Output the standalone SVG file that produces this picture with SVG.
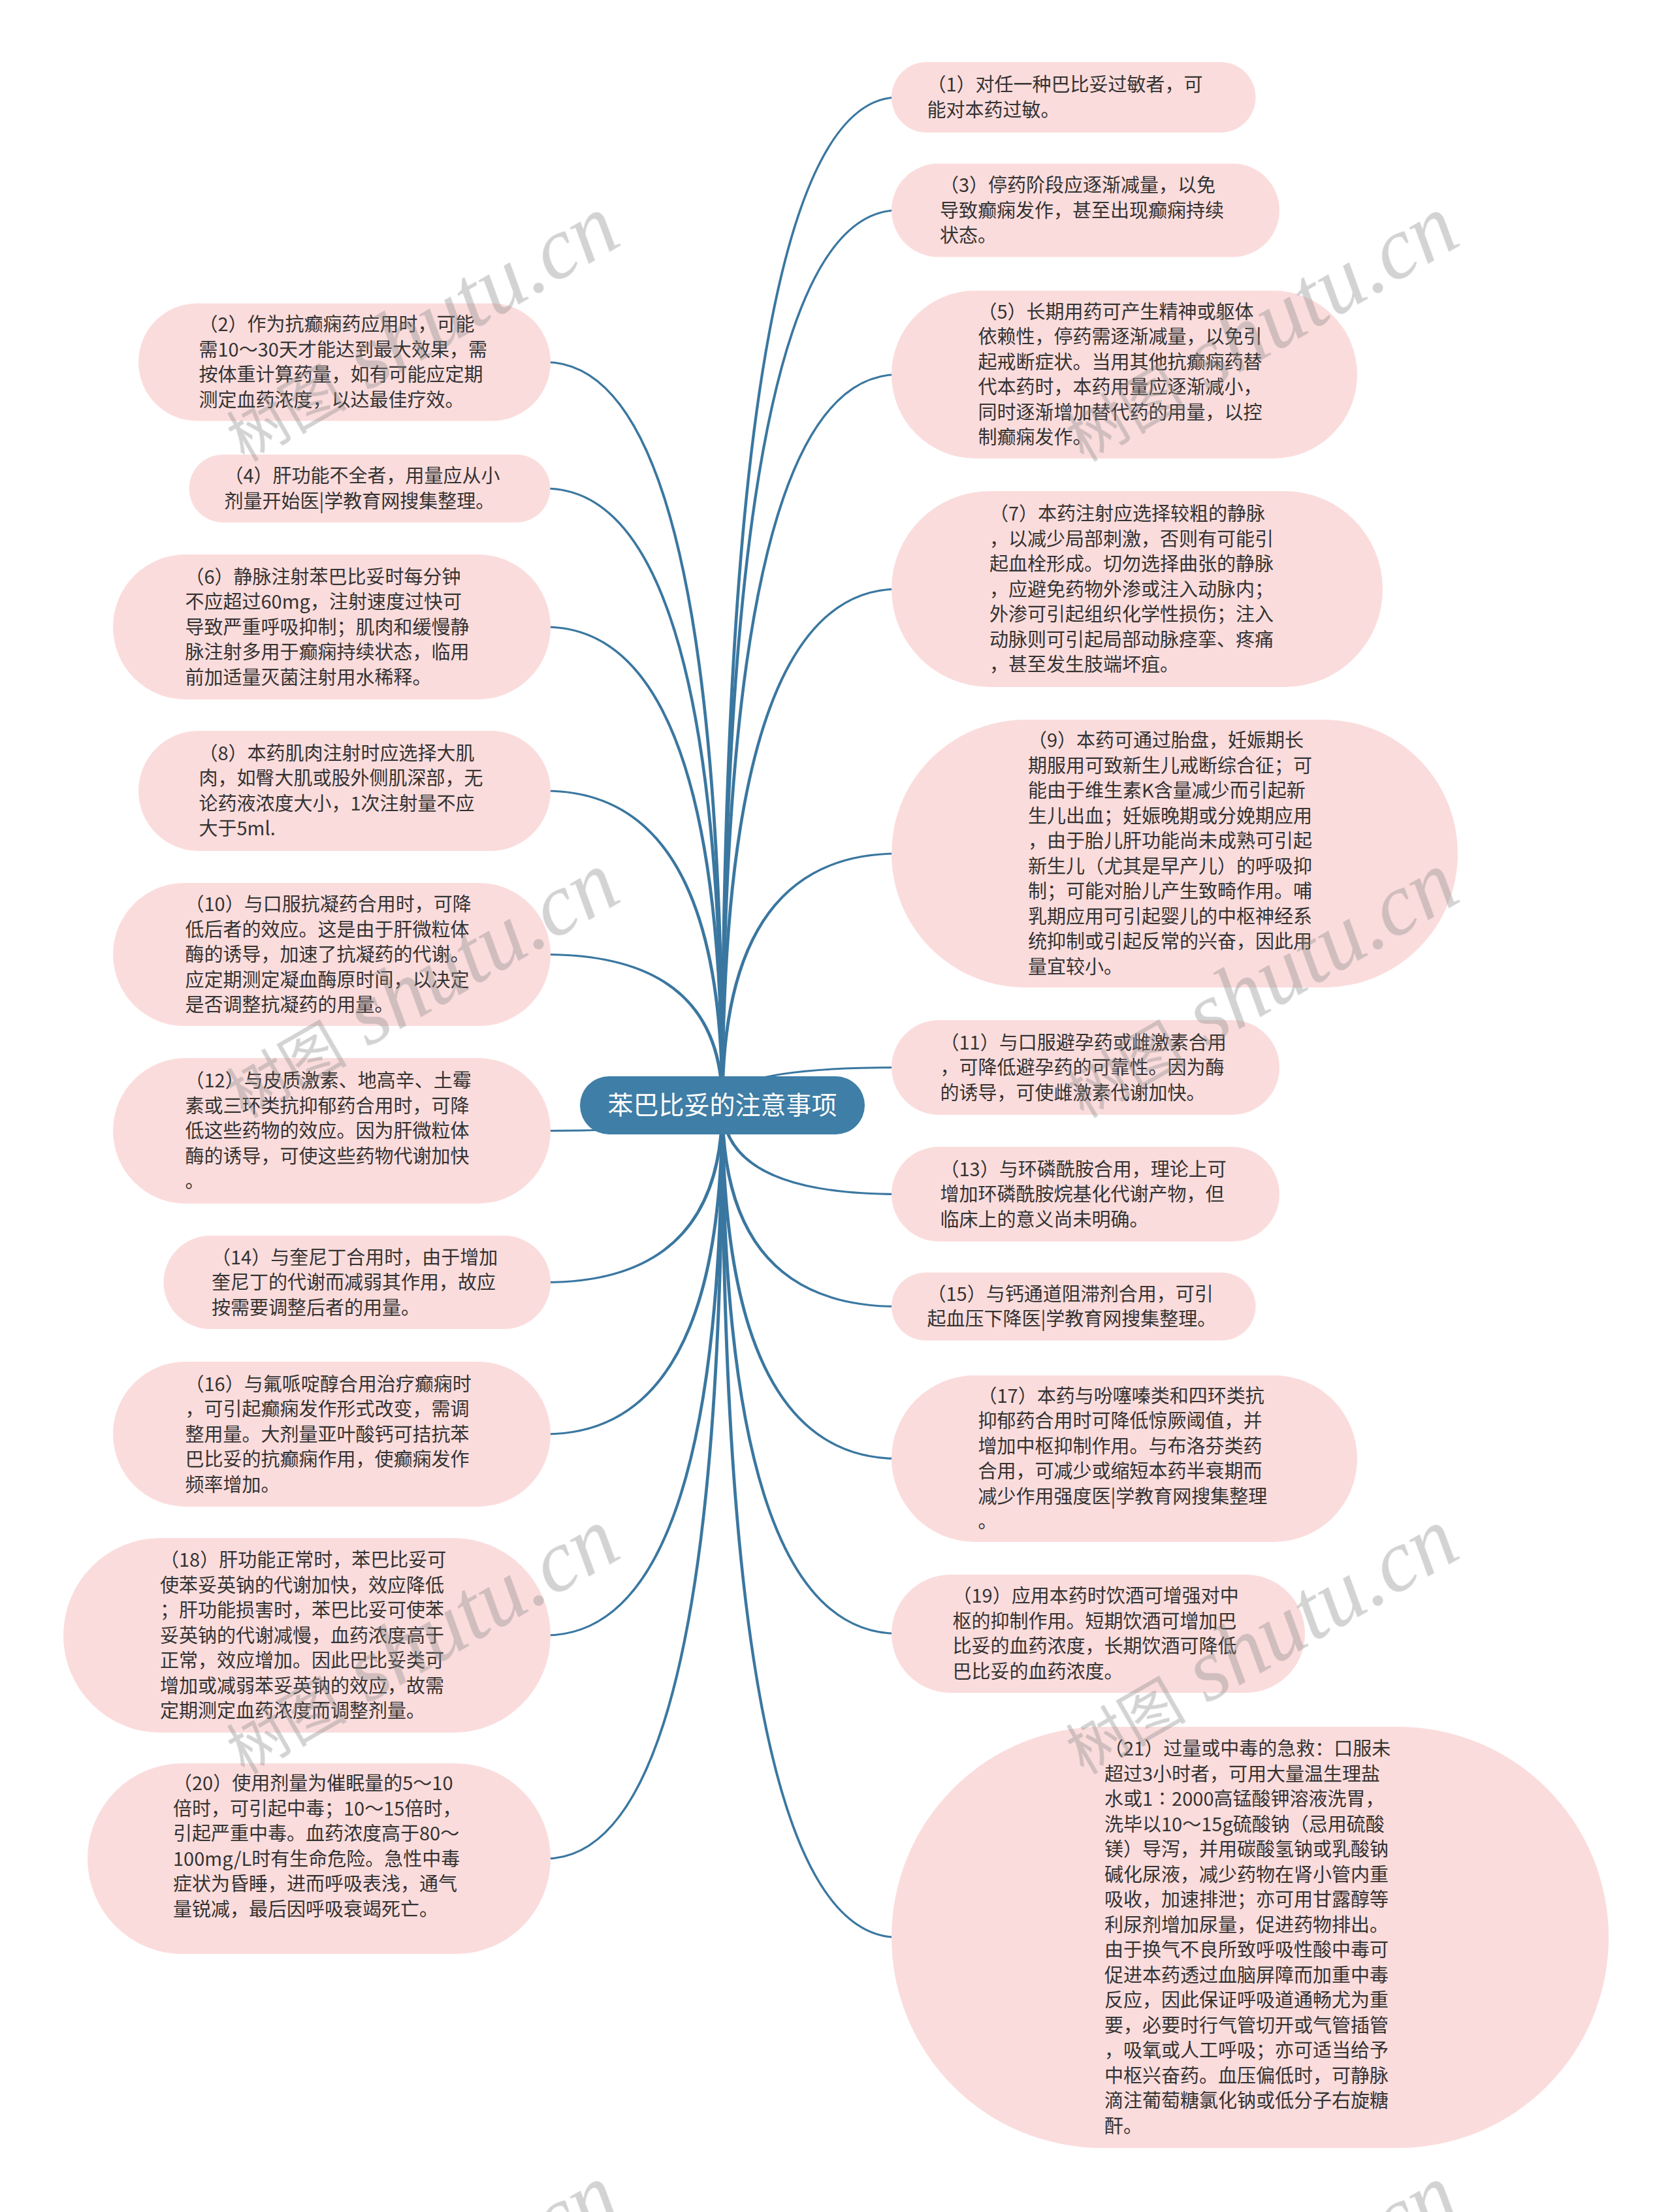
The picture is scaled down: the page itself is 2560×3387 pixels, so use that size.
<svg xmlns="http://www.w3.org/2000/svg" width="2560" height="3387" viewBox="0 0 2560 3387">
<style>
.node rect{fill:#fbdcdc}
.node text{font-family:"Noto Sans CJK SC","Noto Sans CJK JP",sans-serif;font-size:29px;fill:#333}
.edge{fill:#3a77a0}
.root rect{fill:#3f7ea6}
.root text{font-family:"Noto Sans CJK SC","Noto Sans CJK JP",sans-serif;font-size:39px;fill:#fff;text-anchor:middle}
.wm{fill:#8a8a8a;opacity:.38}
.wm .cj{font-family:"Noto Sans CJK SC",sans-serif;font-size:92px}
.wm .lt{font-family:"Liberation Serif",serif;font-style:italic;font-size:135px}
</style>
<rect width="2560" height="3387" fill="#fff"/>
<g id="connectors">
<path class="edge" d="M1108.5 1692Q1108.5 553 835 553L835 556Q1103.5 556 1103.5 1692Z"/>
<path class="edge" d="M1108.5 1692Q1108.5 746.5 835 746.5L835 749.5Q1103.5 749.5 1103.5 1692Z"/>
<path class="edge" d="M1108.5 1692Q1108.5 958.5 835 958.5L835 961.5Q1103.5 961.5 1103.5 1692Z"/>
<path class="edge" d="M1108.5 1692Q1108.5 1209.5 835 1209.5L835 1212.5Q1103.5 1212.5 1103.5 1692Z"/>
<path class="edge" d="M1108.5 1692Q1108.5 1460 835 1460L835 1463Q1103.5 1463 1103.5 1692Z"/>
<path class="edge" d="M1108.5 1692Q1108.5 1733 835 1733L835 1730Q1103.5 1730 1103.5 1692Z"/>
<path class="edge" d="M1108.5 1692Q1108.5 1965 835 1965L835 1962Q1103.5 1962 1103.5 1692Z"/>
<path class="edge" d="M1108.5 1692Q1108.5 2197.5 835 2197.5L835 2194.5Q1103.5 2194.5 1103.5 1692Z"/>
<path class="edge" d="M1108.5 1692Q1108.5 2505.5 835 2505.5L835 2502.5Q1103.5 2502.5 1103.5 1692Z"/>
<path class="edge" d="M1108.5 1692Q1108.5 2847.5 835 2847.5L835 2844.5Q1103.5 2844.5 1103.5 1692Z"/>
<path class="edge" d="M1103.5 1692Q1103.5 147.5 1375 147.5L1375 150.5Q1108.5 150.5 1108.5 1692Z"/>
<path class="edge" d="M1103.5 1692Q1103.5 320.5 1375 320.5L1375 323.5Q1108.5 323.5 1108.5 1692Z"/>
<path class="edge" d="M1103.5 1692Q1103.5 572 1375 572L1375 575Q1108.5 575 1108.5 1692Z"/>
<path class="edge" d="M1103.5 1692Q1103.5 900.5 1375 900.5L1375 903.5Q1108.5 903.5 1108.5 1692Z"/>
<path class="edge" d="M1103.5 1692Q1103.5 1305.5 1375 1305.5L1375 1308.5Q1108.5 1308.5 1108.5 1692Z"/>
<path class="edge" d="M1103.5 1692Q1103.5 1633 1375 1633L1375 1636Q1108.5 1636 1108.5 1692Z"/>
<path class="edge" d="M1103.5 1692Q1103.5 1830 1375 1830L1375 1827Q1108.5 1827 1108.5 1692Z"/>
<path class="edge" d="M1103.5 1692Q1103.5 2002 1375 2002L1375 1999Q1108.5 1999 1108.5 1692Z"/>
<path class="edge" d="M1103.5 1692Q1103.5 2235 1375 2235L1375 2232Q1108.5 2232 1108.5 1692Z"/>
<path class="edge" d="M1103.5 1692Q1103.5 2503 1375 2503L1375 2500Q1108.5 2500 1108.5 1692Z"/>
<path class="edge" d="M1103.5 1692Q1103.5 2968 1375 2968L1375 2965Q1108.5 2965 1108.5 1692Z"/>
</g>
<g id="root" class="root"><rect x="888" y="1648" width="436" height="89" rx="44.5"/><text x="1106" y="1706">苯巴比妥的注意事项</text></g>
<g id="n1" class="node"><rect x="1365" y="95" width="557.5" height="108" rx="54"/><text x="1419.5" y="140.25">（1）对任一种巴比妥过敏者，可<tspan x="1419.5" dy="38.5">能对本药过敏。</tspan></text></g>
<g id="n3" class="node"><rect x="1365" y="250.5" width="594" height="143" rx="71.5"/><text x="1439" y="294">（3）停药阶段应逐渐减量，以免<tspan x="1439" dy="38.5">导致癫痫发作，甚至出现癫痫持续</tspan><tspan x="1439" dy="38.5">状态。</tspan></text></g>
<g id="n5" class="node"><rect x="1365" y="445" width="713" height="257" rx="128.5"/><text x="1497.5" y="487.75">（5）长期用药可产生精神或躯体<tspan x="1497.5" dy="38.5">依赖性，停药需逐渐减量，以免引</tspan><tspan x="1497.5" dy="38.5">起戒断症状。当用其他抗癫痫药替</tspan><tspan x="1497.5" dy="38.5">代本药时，本药用量应逐渐减小，</tspan><tspan x="1497.5" dy="38.5">同时逐渐增加替代药的用量，以控</tspan><tspan x="1497.5" dy="38.5">制癫痫发作。</tspan></text></g>
<g id="n7" class="node"><rect x="1365" y="752" width="752" height="300" rx="150"/><text x="1515" y="797">（7）本药注射应选择较粗的静脉<tspan x="1515" dy="38.5">，以减少局部刺激，否则有可能引</tspan><tspan x="1515" dy="38.5">起血栓形成。切勿选择曲张的静脉</tspan><tspan x="1515" dy="38.5">，应避免药物外渗或注入动脉内；</tspan><tspan x="1515" dy="38.5">外渗可引起组织化学性损伤；注入</tspan><tspan x="1515" dy="38.5">动脉则可引起局部动脉痉挛、疼痛</tspan><tspan x="1515" dy="38.5">，甚至发生肢端坏疽。</tspan></text></g>
<g id="n9" class="node"><rect x="1365" y="1102" width="867" height="410" rx="205"/><text x="1574" y="1144.25">（9）本药可通过胎盘，妊娠期长<tspan x="1574" dy="38.5">期服用可致新生儿戒断综合征；可</tspan><tspan x="1574" dy="38.5">能由于维生素K含量减少而引起新</tspan><tspan x="1574" dy="38.5">生儿出血；妊娠晚期或分娩期应用</tspan><tspan x="1574" dy="38.5">，由于胎儿肝功能尚未成熟可引起</tspan><tspan x="1574" dy="38.5">新生儿（尤其是早产儿）的呼吸抑</tspan><tspan x="1574" dy="38.5">制；可能对胎儿产生致畸作用。哺</tspan><tspan x="1574" dy="38.5">乳期应用可引起婴儿的中枢神经系</tspan><tspan x="1574" dy="38.5">统抑制或引起反常的兴奋，因此用</tspan><tspan x="1574" dy="38.5">量宜较小。</tspan></text></g>
<g id="n11" class="node"><rect x="1365" y="1562" width="594" height="145" rx="72.5"/><text x="1439.5" y="1606.5">（11）与口服避孕药或雌激素合用<tspan x="1439.5" dy="38.5">，可降低避孕药的可靠性。因为酶</tspan><tspan x="1439.5" dy="38.5">的诱导，可使雌激素代谢加快。</tspan></text></g>
<g id="n13" class="node"><rect x="1365" y="1756" width="594" height="145" rx="72.5"/><text x="1439.5" y="1800.5">（13）与环磷酰胺合用，理论上可<tspan x="1439.5" dy="38.5">增加环磷酰胺烷基化代谢产物，但</tspan><tspan x="1439.5" dy="38.5">临床上的意义尚未明确。</tspan></text></g>
<g id="n15" class="node"><rect x="1365" y="1948.5" width="557.5" height="104" rx="52"/><text x="1419.5" y="1991.75">（15）与钙通道阻滞剂合用，可引<tspan x="1419.5" dy="38.5">起血压下降医|学教育网搜集整理。</tspan></text></g>
<g id="n17" class="node"><rect x="1365" y="2106" width="713" height="255" rx="127.5"/><text x="1497.5" y="2147.75">（17）本药与吩噻嗪类和四环类抗<tspan x="1497.5" dy="38.5">抑郁药合用时可降低惊厥阈值，并</tspan><tspan x="1497.5" dy="38.5">增加中枢抑制作用。与布洛芬类药</tspan><tspan x="1497.5" dy="38.5">合用，可减少或缩短本药半衰期而</tspan><tspan x="1497.5" dy="38.5">减少作用强度医|学教育网搜集整理</tspan><tspan x="1497.5" dy="38.5">。</tspan></text></g>
<g id="n19" class="node"><rect x="1365" y="2411" width="633" height="181" rx="90.5"/><text x="1458.5" y="2454.25">（19）应用本药时饮酒可增强对中<tspan x="1458.5" dy="38.5">枢的抑制作用。短期饮酒可增加巴</tspan><tspan x="1458.5" dy="38.5">比妥的血药浓度，长期饮酒可降低</tspan><tspan x="1458.5" dy="38.5">巴比妥的血药浓度。</tspan></text></g>
<g id="n21" class="node"><rect x="1365" y="2644" width="1098" height="645" rx="322.5"/><text x="1691" y="2688.25">（21）过量或中毒的急救：口服未<tspan x="1691" dy="38.5">超过3小时者，可用大量温生理盐</tspan><tspan x="1691" dy="38.5">水或1∶2000高锰酸钾溶液洗胃，</tspan><tspan x="1691" dy="38.5">洗毕以10～15g硫酸钠（忌用硫酸</tspan><tspan x="1691" dy="38.5">镁）导泻，并用碳酸氢钠或乳酸钠</tspan><tspan x="1691" dy="38.5">碱化尿液，减少药物在肾小管内重</tspan><tspan x="1691" dy="38.5">吸收，加速排泄；亦可用甘露醇等</tspan><tspan x="1691" dy="38.5">利尿剂增加尿量，促进药物排出。</tspan><tspan x="1691" dy="38.5">由于换气不良所致呼吸性酸中毒可</tspan><tspan x="1691" dy="38.5">促进本药透过血脑屏障而加重中毒</tspan><tspan x="1691" dy="38.5">反应，因此保证呼吸道通畅尤为重</tspan><tspan x="1691" dy="38.5">要，必要时行气管切开或气管插管</tspan><tspan x="1691" dy="38.5">，吸氧或人工呼吸；亦可适当给予</tspan><tspan x="1691" dy="38.5">中枢兴奋药。血压偏低时，可静脉</tspan><tspan x="1691" dy="38.5">滴注葡萄糖氯化钠或低分子右旋糖</tspan><tspan x="1691" dy="38.5">酐。</tspan></text></g>
<g id="n2" class="node"><rect x="212" y="464.5" width="631" height="180" rx="90"/><text x="304.5" y="507.25">（2）作为抗癫痫药应用时，可能<tspan x="304.5" dy="38.5">需10～30天才能达到最大效果，需</tspan><tspan x="304.5" dy="38.5">按体重计算药量，如有可能应定期</tspan><tspan x="304.5" dy="38.5">测定血药浓度，以达最佳疗效。</tspan></text></g>
<g id="n4" class="node"><rect x="289.5" y="696" width="553" height="104" rx="52"/><text x="343.5" y="739.25">（4）肝功能不全者，用量应从小<tspan x="343.5" dy="38.5">剂量开始医|学教育网搜集整理。</tspan></text></g>
<g id="n6" class="node"><rect x="173" y="849" width="670" height="222" rx="111"/><text x="283.5" y="893.5">（6）静脉注射苯巴比妥时每分钟<tspan x="283.5" dy="38.5">不应超过60mg，注射速度过快可</tspan><tspan x="283.5" dy="38.5">导致严重呼吸抑制；肌肉和缓慢静</tspan><tspan x="283.5" dy="38.5">脉注射多用于癫痫持续状态，临用</tspan><tspan x="283.5" dy="38.5">前加适量灭菌注射用水稀释。</tspan></text></g>
<g id="n8" class="node"><rect x="212" y="1119" width="631" height="184" rx="92"/><text x="304.5" y="1163.75">（8）本药肌肉注射时应选择大肌<tspan x="304.5" dy="38.5">肉，如臀大肌或股外侧肌深部，无</tspan><tspan x="304.5" dy="38.5">论药液浓度大小，1次注射量不应</tspan><tspan x="304.5" dy="38.5">大于5ml.</tspan></text></g>
<g id="n10" class="node"><rect x="173" y="1352" width="670" height="219" rx="109.5"/><text x="283.5" y="1395">（10）与口服抗凝药合用时，可降<tspan x="283.5" dy="38.5">低后者的效应。这是由于肝微粒体</tspan><tspan x="283.5" dy="38.5">酶的诱导，加速了抗凝药的代谢。</tspan><tspan x="283.5" dy="38.5">应定期测定凝血酶原时间，以决定</tspan><tspan x="283.5" dy="38.5">是否调整抗凝药的用量。</tspan></text></g>
<g id="n12" class="node"><rect x="173" y="1620" width="670" height="223" rx="111.5"/><text x="283.5" y="1665">（12）与皮质激素、地高辛、土霉<tspan x="283.5" dy="38.5">素或三环类抗抑郁药合用时，可降</tspan><tspan x="283.5" dy="38.5">低这些药物的效应。因为肝微粒体</tspan><tspan x="283.5" dy="38.5">酶的诱导，可使这些药物代谢加快</tspan><tspan x="283.5" dy="38.5">。</tspan></text></g>
<g id="n14" class="node"><rect x="250.5" y="1892" width="592.5" height="143" rx="71.5"/><text x="324" y="1935.5">（14）与奎尼丁合用时，由于增加<tspan x="324" dy="38.5">奎尼丁的代谢而减弱其作用，故应</tspan><tspan x="324" dy="38.5">按需要调整后者的用量。</tspan></text></g>
<g id="n16" class="node"><rect x="173" y="2085" width="670" height="222" rx="111"/><text x="283.5" y="2129.5">（16）与氟哌啶醇合用治疗癫痫时<tspan x="283.5" dy="38.5">，可引起癫痫发作形式改变，需调</tspan><tspan x="283.5" dy="38.5">整用量。大剂量亚叶酸钙可拮抗苯</tspan><tspan x="283.5" dy="38.5">巴比妥的抗癫痫作用，使癫痫发作</tspan><tspan x="283.5" dy="38.5">频率增加。</tspan></text></g>
<g id="n18" class="node"><rect x="97" y="2355" width="746" height="298" rx="149"/><text x="245" y="2399">（18）肝功能正常时，苯巴比妥可<tspan x="245" dy="38.5">使苯妥英钠的代谢加快，效应降低</tspan><tspan x="245" dy="38.5">；肝功能损害时，苯巴比妥可使苯</tspan><tspan x="245" dy="38.5">妥英钠的代谢减慢，血药浓度高于</tspan><tspan x="245" dy="38.5">正常，效应增加。因此巴比妥类可</tspan><tspan x="245" dy="38.5">增加或减弱苯妥英钠的效应，故需</tspan><tspan x="245" dy="38.5">定期测定血药浓度而调整剂量。</tspan></text></g>
<g id="n20" class="node"><rect x="134" y="2700" width="709" height="292" rx="146"/><text x="265" y="2741">（20）使用剂量为催眠量的5～10<tspan x="265" dy="38.5">倍时，可引起中毒；10～15倍时，</tspan><tspan x="265" dy="38.5">引起严重中毒。血药浓度高于80～</tspan><tspan x="265" dy="38.5">100mg/L时有生命危险。急性中毒</tspan><tspan x="265" dy="38.5">症状为昏睡，进而呼吸表浅，通气</tspan><tspan x="265" dy="38.5">量锐减，最后因呼吸衰竭死亡。</tspan></text></g>
<g id="watermarks" class="wm">
<text transform="translate(374 708) rotate(-30)"><tspan class="cj">树图</tspan><tspan class="lt"> shutu.cn</tspan></text>
<text transform="translate(1659 708) rotate(-30)"><tspan class="cj">树图</tspan><tspan class="lt"> shutu.cn</tspan></text>
<text transform="translate(374 1713) rotate(-30)"><tspan class="cj">树图</tspan><tspan class="lt"> shutu.cn</tspan></text>
<text transform="translate(1659 1713) rotate(-30)"><tspan class="cj">树图</tspan><tspan class="lt"> shutu.cn</tspan></text>
<text transform="translate(374 2718) rotate(-30)"><tspan class="cj">树图</tspan><tspan class="lt"> shutu.cn</tspan></text>
<text transform="translate(1659 2718) rotate(-30)"><tspan class="cj">树图</tspan><tspan class="lt"> shutu.cn</tspan></text>
<text transform="translate(374 3723) rotate(-30)"><tspan class="cj">树图</tspan><tspan class="lt"> shutu.cn</tspan></text>
<text transform="translate(1659 3723) rotate(-30)"><tspan class="cj">树图</tspan><tspan class="lt"> shutu.cn</tspan></text>
</g>
</svg>
